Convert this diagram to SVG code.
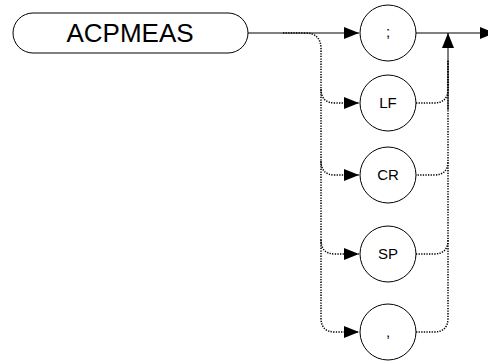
<svg xmlns="http://www.w3.org/2000/svg" width="488" height="362" viewBox="0 0 488 362">
<defs>
<marker id="arr" viewBox="0 0 15 12" refX="15" refY="6" markerWidth="15" markerHeight="12" markerUnits="userSpaceOnUse" orient="auto">
<path d="M0,0 L15,6 L0,12 Z" fill="#000"/>
</marker>
</defs>
<style>
.box{fill:#fff;stroke:#000;stroke-width:1}
.circ{fill:#fff;stroke:#000;stroke-width:1}
.lbl{font-family:"Liberation Sans",Arial,sans-serif;fill:#000;text-anchor:middle}
.solid{fill:none;stroke:#000;stroke-width:1}
.dot{fill:none;stroke:#000;stroke-width:1.5;stroke-dasharray:1.3 1.3}
</style>
<rect width="488" height="362" fill="#fff"/>
<g id="connectors">
<path class="solid" d="M248,33 H359" marker-end="url(#arr)"/>
<path class="solid" d="M416,33 H495" marker-end="url(#arr)"/>
<path class="dot" d="M283,33 H305 Q321,33 321,49 V89 Q321,103 335,103 H359" marker-end="url(#arr)"/>
<path class="dot" d="M321,89 V161 Q321,175 335,175 H359" marker-end="url(#arr)"/>
<path class="dot" d="M321,161 V240 Q321,254 335,254 H359" marker-end="url(#arr)"/>
<path class="dot" d="M321,240 V318 Q321,332 335,332 H359" marker-end="url(#arr)"/>
<path class="dot" d="M416,103 H434 Q448,103 448,89 V60"/>
<path class="dot" d="M416,175 H434 Q448,175 448,161 V60" stroke-dashoffset="1"/>
<path class="dot" d="M416,254 H434 Q448,254 448,240 V161"/>
<path class="dot" d="M416,332 H434 Q448,332 448,318 V240"/>
<path class="solid" d="M448,110 V33" marker-end="url(#arr)"/>
</g>
<g id="acpmeas">
<rect class="box" x="13" y="13" width="235" height="40" rx="20" ry="20"/>
<text class="lbl" x="130" y="42" font-size="26">ACPMEAS</text>
</g>
<g id="semicolon">
<circle class="circ" cx="388" cy="33" r="28"/>
<text class="lbl" x="388" y="37" font-size="15">;</text>
</g>
<g id="lf">
<circle class="circ" cx="388" cy="103" r="28"/>
<text class="lbl" x="388" y="108" font-size="15">LF</text>
</g>
<g id="cr">
<circle class="circ" cx="388" cy="175" r="28"/>
<text class="lbl" x="388" y="180" font-size="15">CR</text>
</g>
<g id="sp">
<circle class="circ" cx="388" cy="254" r="28"/>
<text class="lbl" x="388" y="259" font-size="15">SP</text>
</g>
<g id="comma">
<circle class="circ" cx="388" cy="332" r="28"/>
<text class="lbl" x="388" y="337" font-size="15">,</text>
</g>
</svg>
